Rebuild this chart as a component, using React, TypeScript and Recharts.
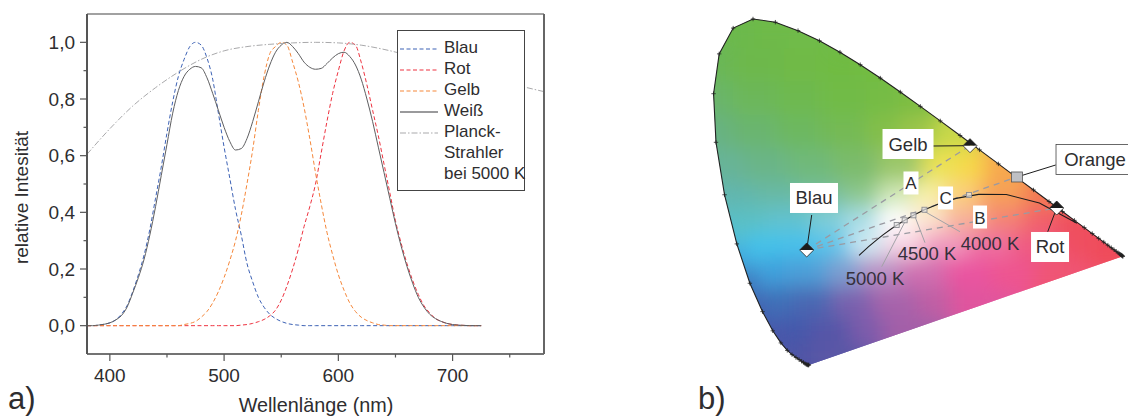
import React from "react";
import { LineChart, Line, XAxis, YAxis, Legend, ScatterChart, Scatter } from "recharts";

const FONT = "'Liberation Sans', Arial, sans-serif";
const INK = "#2e2d2f";

// ---------- panel a) ----------
const nm5 = [380,385,390,395,400,405,410,415,420,425,430,435,440,445,450,455,460,465,470,475,480,485,490,495,500,505,510,515,520,525,530,535,540,545,550,555,560,565,570,575,580,585,590,595,600,605,610,615,620,625,630,635,640,645,650,655,660,665,670,675,680,685,690,695,700,705,710,715,720,725];
const blau = [0,0,.002,.005,.01,.02,.04,.07,.12,.18,.25,.34,.45,.56,.68,.79,.88,.94,.985,1,.99,.945,.87,.75,.63,.52,.41,.32,.22,.155,.1,.065,.04,.025,.015,.008,.004,.002,0,0,0,0,0,0,0,0,0,0,0,0,0,0,0,0,0,0,0,0,0,0,0,0,0,0,0,0,0,0,0,0];
const rot = [0,0,0,0,0,0,0,0,0,0,0,0,0,0,0,0,0,0,0,0,0,0,0,0,0,0,0,.002,.004,.008,.014,.022,.035,.055,.09,.14,.2,.27,.35,.42,.5,.61,.72,.82,.9,.97,1,.99,.93,.85,.76,.67,.57,.47,.37,.29,.22,.16,.11,.07,.045,.025,.015,.008,.004,.002,.001,0,0,0];
const gelb = [0,0,0,0,0,0,0,0,0,0,0,0,0,0,0,0,0,.004,.008,.015,.03,.05,.08,.12,.17,.23,.3,.39,.5,.62,.76,.88,.96,.985,1,.99,.93,.86,.77,.66,.54,.43,.33,.25,.18,.125,.08,.05,.03,.018,.01,.004,.002,0,0,0,0,0,0,0,0,0,0,0,0,0,0,0,0,0];
const weiss = [0,0,.002,.005,.01,.02,.035,.065,.115,.17,.235,.32,.42,.53,.64,.75,.83,.88,.905,.915,.91,.875,.82,.76,.7,.65,.62,.625,.66,.72,.79,.86,.92,.965,.99,1,.985,.96,.93,.912,.905,.908,.925,.945,.96,.965,.95,.92,.87,.8,.72,.63,.54,.45,.36,.28,.21,.15,.1,.065,.04,.025,.015,.008,.004,.002,.001,0,0,0];
const nmPlanck = [380,400,420,440,460,480,500,520,540,560,580,600,620,640,660,680,700,720,740,760,780];
const planck = [.605,.695,.775,.84,.895,.94,.97,.985,.993,.998,1,.998,.99,.975,.955,.93,.905,.885,.865,.845,.826];

const rows = (ys: number[]) => nm5.map((x, i) => ({ x, y: ys[i] }));
const planckRows = nmPlanck.map((x, i) => ({ x, y: planck[i] }));

const xMajor = [400, 500, 600, 700];
const xTicks = [400, 450, 500, 550, 600, 650, 700, 750];
const yMajor = [0, 0.2, 0.4, 0.6, 0.8, 1];
const yTicks = [0, 0.1, 0.2, 0.3, 0.4, 0.5, 0.6, 0.7, 0.8, 0.9, 1];
const legendLines: Record<string, string[]> = {
  Blau: ["Blau"], Rot: ["Rot"], Gelb: ["Gelb"], "Weiß": ["Weiß"],
  Planck: ["Planck-", "Strahler", "bei 5000 K"],
};

const isMajor = (list: number[], v: number) => list.some((m) => Math.abs(m - v) < 1e-6);

const BottomTick = (p: any) => {
  const major = isMajor(xMajor, p.payload.value);
  return (
    <g>
      <line x1={p.x} x2={p.x} y1={p.y} y2={p.y + (major ? 7 : 3.5)} stroke="#555" strokeWidth={1.2} />
      {major && <text x={p.x} y={p.y + 28} textAnchor="middle" fontSize={19} fontFamily={FONT} fill={INK}>{p.payload.value}</text>}
    </g>
  );
};
const TopTick = (p: any) => (
  <line x1={p.x} x2={p.x} y1={p.y} y2={p.y + (isMajor(xMajor, p.payload.value) ? 6 : 3.5)} stroke="#444" strokeWidth={1.2} />
);
const LeftTick = (p: any) => {
  const major = isMajor(yMajor, p.payload.value);
  return (
    <g>
      <line x1={p.x} x2={p.x - (major ? 7 : 3.5)} y1={p.y} y2={p.y} stroke="#555" strokeWidth={1.2} />
      {major && <text x={p.x - 12} y={p.y + 6.5} textAnchor="end" fontSize={19} fontFamily={FONT} fill={INK}>{p.payload.value.toFixed(1).replace(".", ",")}</text>}
    </g>
  );
};
const RightTick = (p: any) => (
  <line x1={p.x} x2={p.x - (isMajor(yMajor, p.payload.value) ? 7 : 3.5)} y1={p.y} y2={p.y} stroke="#555" strokeWidth={1.2} />
);
const XTitle = () => (
  <text x={316} y={412} textAnchor="middle" fontSize={19.8} fontFamily={FONT} fill={INK}>Wellenlänge (nm)</text>
);
const YTitle = () => (
  <text transform="translate(28 197.5) rotate(-90)" textAnchor="middle" fontSize={19} fontFamily={FONT} fill={INK}>relative Intesität</text>
);

const LegendBox = ({ payload }: any) => {
  return (
    <div style={{ width: 128, height: 161, boxSizing: "border-box", border: "1px solid #444", background: "#fff", position: "relative", fontFamily: FONT, fontSize: 17, color: INK }}>
      {(() => {
        let row = 0;
        return (payload || []).map((it: any) => {
          const lines = legendLines[it.value] || [it.value];
          const r0 = row;
          row += lines.length;
          return (
            <div key={it.value}>
              <svg width={38} height={4} style={{ position: "absolute", left: 2, top: 15.5 + r0 * 21 }}>
                <line x1={0} x2={38} y1={2} y2={2} stroke={it.value === "Weiß" ? "#9a9a9c" : it.color} strokeWidth={it.value === "Weiß" ? 1.8 : 1.1} strokeDasharray={it.payload?.strokeDasharray} />
              </svg>
              {lines.map((l, i) => (
                <div key={l} style={{ position: "absolute", left: 46, top: 7 + (r0 + i) * 21, lineHeight: "20px", whiteSpace: "nowrap" }}>{l}</div>
              ))}
            </div>
          );
        });
      })()}
    </div>
  );
};

const SpectrumChart = () => (
  <LineChart width={560} height={416} margin={{ left: 86, right: 15, top: 13, bottom: 61 }}>
    <XAxis dataKey="x" type="number" domain={[380, 780]} ticks={xTicks} interval={0} height={1} tickSize={0} tickMargin={0} tickLine={false}
      tick={BottomTick} axisLine={{ stroke: "#444", strokeWidth: 1.4 }} allowDuplicatedCategory={false}
      label={{ value: "Wellenlänge (nm)", content: XTitle }} />
    <XAxis xAxisId="top" orientation="top" dataKey="x" type="number" domain={[380, 780]} ticks={xTicks} interval={0} height={1} tickSize={0} tickMargin={0} tickLine={false}
      tick={TopTick} axisLine={{ stroke: "#444", strokeWidth: 1.2 }} allowDuplicatedCategory={false} />
    <YAxis dataKey="y" type="number" domain={[-0.1, 1.1]} ticks={yTicks} interval={0} width={1} tickSize={0} tickMargin={0} tickLine={false}
      tick={LeftTick} axisLine={{ stroke: "#555", strokeWidth: 2 }}
      label={{ value: "relative Intesität", content: YTitle }} />
    <YAxis yAxisId="right" orientation="right" dataKey="y" type="number" domain={[-0.1, 1.1]} ticks={yTicks} interval={0} width={1} tickSize={0} tickMargin={0} tickLine={false}
      tick={RightTick} axisLine={{ stroke: "#666", strokeWidth: 2 }} />
    <Line type="monotone" data={rows(blau)} dataKey="y" name="Blau" stroke="#3d62b5" strokeWidth={1} strokeDasharray="4 2.5" dot={false} isAnimationActive={false} />
    <Line type="monotone" data={rows(rot)} dataKey="y" name="Rot" stroke="#ee3340" strokeWidth={1} strokeDasharray="4 2.5" dot={false} isAnimationActive={false} />
    <Line type="monotone" data={rows(gelb)} dataKey="y" name="Gelb" stroke="#f5873a" strokeWidth={1} strokeDasharray="4 2.5" dot={false} isAnimationActive={false} />
    <Line type="monotone" data={rows(weiss)} dataKey="y" name="Weiß" stroke="#5e5e60" strokeWidth={1} dot={false} isAnimationActive={false} />
    <Line type="monotone" data={planckRows} dataKey="y" name="Planck" stroke="#a9a9ab" strokeWidth={1} strokeDasharray="6 2 1.5 2" dot={false} isAnimationActive={false} />
    <Legend layout="vertical" align="center" verticalAlign="middle" itemSorter={null} content={<LegendBox />}
      wrapperStyle={{ position: "absolute", left: 397, top: 30, width: 128, height: 161, margin: 0 }} />
  </LineChart>
);

// ---------- panel b) : CIE 1931 xy ----------
const locusX = [.1741,.1733,.1726,.1714,.1703,.1689,.1669,.1644,.1611,.1566,.1510,.1440,.1355,.1241,.1096,.0913,.0687,.0454,.0235,.0082,.0039,.0139,.0389,.0743,.1142,.1547,.1929,.2296,.2658,.3016,.3373,.3731,.4087,.4441,.4788,.5125,.5448,.5752,.6029,.6270,.6482,.6658,.6801,.6915,.7006,.7079,.7140,.7190,.7230,.7260,.7283,.7300,.7311,.7320,.7327,.7334,.7344,.7347];
const locusY = [.0050,.0048,.0048,.0051,.0058,.0069,.0086,.0109,.0138,.0177,.0227,.0297,.0399,.0578,.0868,.1327,.2007,.2950,.4127,.5384,.6548,.7502,.8120,.8338,.8262,.8059,.7816,.7543,.7243,.6923,.6589,.6245,.5896,.5547,.5202,.4866,.4544,.4242,.3965,.3725,.3514,.3340,.3197,.3083,.2993,.2920,.2859,.2809,.2770,.2740,.2717,.2700,.2689,.2680,.2673,.2666,.2656,.2653];
const planckX = [.2637,.2807,.2952,.3064,.3221,.3324,.3451,.3608,.3805,.4053,.4369,.4770,.5267,.5857,.6528];
const planckY = [.2673,.2884,.3048,.3166,.3318,.3410,.3516,.3635,.3768,.3907,.4041,.4137,.4133,.3931,.3444];
const tempX = [.3309,.3451,.3608,.3805,.4600];
const tempY = [.3403,.3516,.3635,.3768,.4121];

const blauPt = { x: .1702, y: .2804 };
const gelbPt = { x: .4618, y: .5303 };
const rotPt = { x: .6166, y: .3810 };
const orangePt = { x: .5457, y: .4553 };

const fieldX = [
  .06,.12,.18,
  .02,.08,.16,.24,.30,
  .01,.08,.16,.24,.32,.38,
  .02,.08,.16,.24,.32,.38,.44,
  .03,.10,.18,.26,.34,.42,.48,.53,
  .05,.12,.20,.28,.34,.40,.46,.52,.60,
  .07,.14,.22,.28,.34,.40,.46,.53,.60,.66,
  .10,.17,.23,.29,.35,.42,.50,.58,.66,.72,
  .12,.18,.25,.31,.38,.46,.54,.62,
  .13,.19,.26,.33,.41,.47,
  .155,.22,.29,.35,
  .175,.22];
const fieldY = [
  .80,.80,.80,
  .72,.72,.72,.72,.72,
  .64,.64,.64,.64,.64,.64,
  .56,.56,.56,.56,.56,.56,.56,
  .48,.48,.48,.48,.48,.48,.48,.48,
  .40,.40,.40,.40,.40,.40,.40,.40,.40,
  .34,.34,.34,.34,.34,.34,.34,.34,.34,.34,
  .28,.28,.28,.28,.28,.28,.28,.28,.28,.28,
  .22,.22,.22,.22,.22,.22,.22,.22,
  .15,.15,.15,.15,.15,.15,
  .08,.08,.08,.08,
  .02,.02];
const fieldColor = [
  "#6cb94c","#6eba48","#6fbb48",
  "#6ab757","#6db84c","#6fba47","#70bb43","#72bc43",
  "#6ab56a","#6cb75a","#6eb950","#71bb46","#76bc44","#7dbd42",
  "#68b282","#6ab56f","#6db861","#74ba55","#84bf4a","#9bc548","#c6d84a",
  "#67b498","#6ab588","#70b97a","#7cbb6c","#9cc76a","#ece255","#f7d84a","#f7a84e",
  "#62b6ae","#68b9a6","#77be9e","#8fc88e","#d0e8b8","#f8f0a8","#fbcf7e","#f6a059","#f37c50",
  "#5cc0c4","#62c2cf","#7fcdd8","#a8dde6","#ffffff","#fbe4d0","#f7b09a","#f48374","#f1606a","#ef4f5c",
  "#45c2ea","#46c1ec","#5fc5ea","#cfeaf3","#f8d4e4","#f09ac0","#ee6fa0","#ef5a80","#ef4f62","#ef4c5a",
  "#3fa0dc","#4e9fd8","#7e9ed0","#b98fc4","#d06fb0","#ea55a0","#ee5590","#ef5474",
  "#3f6fb8","#4b68b2","#7a62ae","#a763ab","#c05fa4","#e0559e",
  "#4459ac","#5557a8","#7d5cab","#a35ea8",
  "#4e55a6","#5a56a6"];

const calloutText = ["Gelb", "Blau", "Orange", "Rot", "A", "B", "C"];
const calloutX = [.3511, .1832, .6850, .6047, .3564, .4797, .4181];
const calloutY = [.5343, .4050, .4972, .2876, .4409, .3594, .4050];
const calloutW = [51, 48, 78, 38, 15, 14, 15];
const calloutH = [30, 30, 30, 30, 23, 23, 23];
const tempText = ["5000 K", "4500 K", "4000 K"];
const tempLabelX = [.2922, .3850, .4975];
const tempLabelY = [.2133, .2708, .2971];

const blackLeaders = [
  [{ x: .3957, y: .5295 }, gelbPt],
  [{ x: .1791, y: .3642 }, blauPt],
  [{ x: .6148, y: .4840 }, orangePt],
  [{ x: .6006, y: .3242 }, rotPt],
];
const greyLeaders = [
  [{ x: .3041, y: .2404 }, { x: .3457, y: .3482 }],
  [{ x: .3814, y: .2979 }, { x: .3636, y: .3602 }],
  [{ x: .4439, y: .3242 }, { x: .3814, y: .3721 }],
];
const dashed = [[blauPt, gelbPt], [blauPt, orangePt], [blauPt, rotPt]];

const locus = locusX.map((x, i) => ({ x, y: locusY[i] }));
const planckCurve = planckX.map((x, i) => ({ x, y: planckY[i] }));
const tempPts = tempX.map((x, i) => ({ x, y: tempY[i] }));
const field = fieldX.map((x, i) => ({ x, y: fieldY[i], color: fieldColor[i] }));
const callouts = calloutText.map((text, i) => ({ x: calloutX[i], y: calloutY[i], text, w: calloutW[i], h: calloutH[i] }));
const tempLabels = tempText.map((text, i) => ({ x: tempLabelX[i], y: tempLabelY[i], text }));

const W2 = 438, H2 = 416;
const DX: [number, number] = [-0.0382, 0.7439];
const DY: [number, number] = [-0.1173, 0.8793];
const clipPoints = locus
  .map((p) => `${((p.x - DX[0]) / (DX[1] - DX[0])) * W2},${(1 - (p.y - DY[0]) / (DY[1] - DY[0])) * H2}`)
  .join(" ");

const Nothing = () => <g />;
const UnderBlob = (p: any) => <circle cx={p.cx} cy={p.cy} r={55} fill={p.payload.color} />;
const Blob = (p: any) => <rect x={p.cx - 24} y={p.cy - 18} width={48} height={36} fill={p.payload.color} />;
const Cross = (p: any) => (
  <path d={`M${p.cx - 2.2},${p.cy}H${p.cx + 2.2}M${p.cx},${p.cy - 2.2}V${p.cy + 2.2}`} stroke="#222" strokeWidth={0.8} fill="none" />
);
const Diamond = (p: any) => {
  const r = 7;
  return (
    <g>
      <path d={`M${p.cx - r},${p.cy}L${p.cx},${p.cy - r}L${p.cx + r},${p.cy}Z`} fill="#1c1c1c" />
      <path d={`M${p.cx - r},${p.cy}L${p.cx},${p.cy + r}L${p.cx + r},${p.cy}Z`} fill="#fff" />
      <path d={`M${p.cx - r},${p.cy}L${p.cx},${p.cy - r}L${p.cx + r},${p.cy}L${p.cx},${p.cy + r}Z`} fill="none" stroke="#222" strokeWidth={0.8} />
    </g>
  );
};
const SmallSquare = (p: any) => (
  <rect x={p.cx - 2.5} y={p.cy - 2.5} width={5} height={5} fill="#e4e4e6" fillOpacity={0.7} stroke="#8d8d92" strokeWidth={0.9} />
);
const OrangeSquare = (p: any) => (
  <rect x={p.cx - 5.5} y={p.cy - 5} width={11} height={10} fill="#bfc0c4" stroke="#555" strokeWidth={0.8} />
);
const Callout = (p: any) => {
  const d = p.payload;
  const bordered = d.text === "Orange";
  return (
    <g>
      <rect x={p.cx - d.w / 2} y={p.cy - d.h / 2} width={d.w} height={d.h} fill="#fff" stroke={bordered ? "#444" : "none"} strokeWidth={0.8} />
      <text x={p.cx} y={p.cy + 6.5} textAnchor="middle" fontSize={d.h < 25 ? 17 : 18.5} fontFamily={FONT} fill={INK}>{d.text}</text>
    </g>
  );
};
const TempLabel = (p: any) => (
  <text x={p.cx} y={p.cy + 6.5} textAnchor="middle" fontSize={18.5} fontFamily={FONT} fill="#35303c">{p.payload.text}</text>
);

const ChromaChart = () => (
  <ScatterChart width={W2} height={H2} margin={{ left: 0, right: 0, top: 0, bottom: 0 }}>
    <defs>
      <filter id="soft" x="-20%" y="-20%" width="140%" height="140%">
        <feGaussianBlur stdDeviation={10} />
      </filter>
      <clipPath id="locusClip">
        <polygon points={clipPoints} />
      </clipPath>
    </defs>
    <XAxis dataKey="x" type="number" domain={DX} hide allowDataOverflow />
    <YAxis dataKey="y" type="number" domain={DY} hide allowDataOverflow />
    <Scatter className="colour-field" data={field} shape={UnderBlob} isAnimationActive={false} />
    <Scatter className="colour-field" data={field} shape={Blob} isAnimationActive={false} />
    <Scatter data={locus} shape={Cross} line={{ stroke: "#222", strokeWidth: 1.1 }} isAnimationActive={false} />
    {dashed.map((seg, i) => (
      <Scatter key={i} data={seg} shape={Nothing} line={{ stroke: "#9a9aa2", strokeWidth: 1.3, strokeDasharray: "6 5" }} isAnimationActive={false} />
    ))}
    {greyLeaders.map((seg, i) => (
      <Scatter key={i} data={seg} shape={Nothing} line={{ stroke: "#a2a2a6", strokeWidth: 1 }} isAnimationActive={false} />
    ))}
    <Scatter data={planckCurve} shape={Nothing} line={{ stroke: "#1c1c1c", strokeWidth: 1.1 }} isAnimationActive={false} />
    <Scatter data={tempPts} shape={SmallSquare} isAnimationActive={false} />
    {blackLeaders.map((seg, i) => (
      <Scatter key={i} data={seg} shape={Nothing} line={{ stroke: "#1c1c1c", strokeWidth: 1 }} isAnimationActive={false} />
    ))}
    <Scatter data={[blauPt, gelbPt, rotPt]} shape={Diamond} isAnimationActive={false} />
    <Scatter data={[orangePt]} shape={OrangeSquare} isAnimationActive={false} />
    <Scatter data={callouts} shape={Callout} isAnimationActive={false} />
    <Scatter data={tempLabels} shape={TempLabel} isAnimationActive={false} />
  </ScatterChart>
);

const panelTag: React.CSSProperties = { position: "absolute", fontFamily: FONT, fontSize: 31, lineHeight: "30px", color: INK };

export default function App() {
  return (
    <div style={{ position: "fixed", left: 0, top: 0, width: 1128, height: 416, background: "#fff", overflow: "hidden" }}>
      <style>{`.colour-field { filter: url(#soft); clip-path: url(#locusClip); }`}</style>
      <div style={{ position: "absolute", left: 0, top: 0 }}><SpectrumChart /></div>
      <div style={{ position: "absolute", left: 690, top: 0 }}><ChromaChart /></div>
      <div style={{ ...panelTag, left: 8, top: 384 }}>a)</div>
      <div style={{ ...panelTag, left: 698, top: 384 }}>b)</div>
    </div>
  );
}
